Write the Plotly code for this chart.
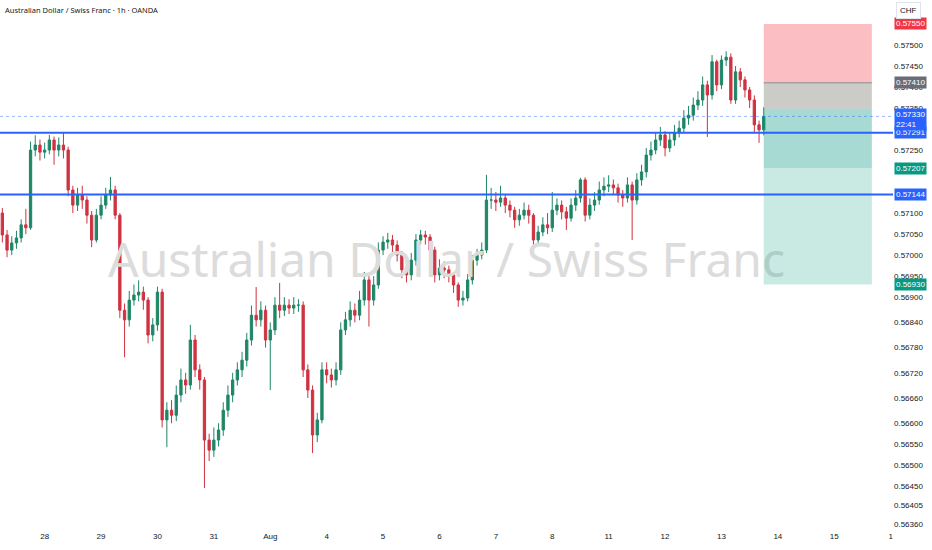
import plotly.graph_objects as go

# AUDCHF, 2h bars (oldest first)
first_open = 0.57100
closes = [
    0.57048, 0.57012, 0.57029, 0.57041, 0.57072, 0.57065, 0.57250, 0.57262, 0.57245, 0.57250,
    0.57274, 0.57250, 0.57262, 0.57250, 0.57155, 0.57119, 0.57143, 0.57131, 0.57095, 0.57036,
    0.57095, 0.57119, 0.57143, 0.57155, 0.57095, 0.56869, 0.56846, 0.56893, 0.56905, 0.56912,
    0.56893, 0.56810, 0.56834, 0.56912, 0.56608, 0.56631, 0.56619, 0.56667, 0.56703, 0.56691,
    0.56798, 0.56727, 0.56703, 0.56560, 0.56536, 0.56560, 0.56584, 0.56631, 0.56667, 0.56703,
    0.56727, 0.56750, 0.56798, 0.56857, 0.56846, 0.56869, 0.56798, 0.56822, 0.56881, 0.56869,
    0.56881, 0.56874, 0.56881, 0.56881, 0.56727, 0.56679, 0.56572, 0.56608, 0.56727, 0.56715,
    0.56703, 0.56727, 0.56822, 0.56846, 0.56869, 0.56857, 0.56893, 0.56941, 0.56893, 0.56929,
    0.57012, 0.57031, 0.57036, 0.57024, 0.57000, 0.56965, 0.56953, 0.56988, 0.57036, 0.57048,
    0.57043, 0.57012, 0.56953, 0.56969, 0.56965, 0.56953, 0.56929, 0.56893, 0.56898, 0.56941,
    0.56988, 0.57000, 0.57012, 0.57131, 0.57131, 0.57126, 0.57136, 0.57119, 0.57107, 0.57084,
    0.57095, 0.57107, 0.57095, 0.57036, 0.57055, 0.57072, 0.57065, 0.57107, 0.57119, 0.57103,
    0.57088, 0.57119, 0.57136, 0.57179, 0.57095, 0.57119, 0.57131, 0.57155, 0.57164, 0.57167,
    0.57160, 0.57143, 0.57136, 0.57167, 0.57131, 0.57179, 0.57198, 0.57238, 0.57250, 0.57274,
    0.57286, 0.57255, 0.57274, 0.57291, 0.57302, 0.57326, 0.57333, 0.57357, 0.57369, 0.57405,
    0.57381, 0.57460, 0.57405, 0.57464, 0.57471, 0.57369, 0.57436, 0.57417, 0.57393, 0.57369,
    0.57310, 0.57298, 0.57330,
]
highs = [
    0.57112, 0.57060, 0.57045, 0.57058, 0.57085, 0.57110, 0.57270, 0.57285, 0.57275, 0.57268,
    0.57286, 0.57282, 0.57280, 0.57293, 0.57258, 0.57165, 0.57160, 0.57165, 0.57140, 0.57105,
    0.57110, 0.57140, 0.57160, 0.57186, 0.57165, 0.57100, 0.56885, 0.56915, 0.56930, 0.56940,
    0.56925, 0.56900, 0.56850, 0.56925, 0.56920, 0.56650, 0.56655, 0.56690, 0.56730, 0.56720,
    0.56834, 0.56810, 0.56740, 0.56710, 0.56575, 0.56590, 0.56600, 0.56650, 0.56690, 0.56720,
    0.56745, 0.56770, 0.56815, 0.56880, 0.56924, 0.56890, 0.56880, 0.56840, 0.56900, 0.56934,
    0.56900, 0.56895, 0.56900, 0.56895, 0.56890, 0.56740, 0.56690, 0.56625, 0.56745, 0.56745,
    0.56730, 0.56745, 0.56840, 0.56865, 0.56890, 0.56885, 0.56915, 0.56960, 0.56950, 0.56950,
    0.57030, 0.57045, 0.57053, 0.57048, 0.57035, 0.57010, 0.56980, 0.57005, 0.57050, 0.57060,
    0.57058, 0.57050, 0.57020, 0.56990, 0.56985, 0.56975, 0.56960, 0.56935, 0.56915, 0.56955,
    0.57000, 0.57015, 0.57030, 0.57191, 0.57160, 0.57150, 0.57165, 0.57145, 0.57130, 0.57115,
    0.57110, 0.57125, 0.57120, 0.57100, 0.57070, 0.57090, 0.57100, 0.57150, 0.57135, 0.57130,
    0.57115, 0.57135, 0.57155, 0.57184, 0.57185, 0.57135, 0.57150, 0.57175, 0.57185, 0.57190,
    0.57180, 0.57170, 0.57155, 0.57185, 0.57175, 0.57195, 0.57215, 0.57255, 0.57270, 0.57290,
    0.57305, 0.57295, 0.57290, 0.57310, 0.57320, 0.57345, 0.57355, 0.57375, 0.57390, 0.57425,
    0.57415, 0.57476, 0.57465, 0.57475, 0.57485, 0.57480, 0.57450, 0.57445, 0.57425, 0.57400,
    0.57380, 0.57320, 0.57352,
]
lows = [
    0.57030, 0.56995, 0.57000, 0.57015, 0.57030, 0.57050, 0.57060, 0.57235, 0.57225, 0.57230,
    0.57240, 0.57215, 0.57235, 0.57230, 0.57140, 0.57100, 0.57105, 0.57110, 0.57075, 0.57019,
    0.57030, 0.57085, 0.57110, 0.57130, 0.57085, 0.56850, 0.56757, 0.56830, 0.56880, 0.56890,
    0.56870, 0.56790, 0.56795, 0.56820, 0.56590, 0.56543, 0.56600, 0.56605, 0.56650, 0.56670,
    0.56680, 0.56710, 0.56680, 0.56446, 0.56510, 0.56520, 0.56545, 0.56570, 0.56615, 0.56650,
    0.56690, 0.56710, 0.56735, 0.56785, 0.56830, 0.56830, 0.56780, 0.56679, 0.56810, 0.56850,
    0.56855, 0.56860, 0.56860, 0.56865, 0.56710, 0.56660, 0.56529, 0.56555, 0.56600, 0.56695,
    0.56685, 0.56690, 0.56715, 0.56810, 0.56830, 0.56840, 0.56845, 0.56880, 0.56830, 0.56880,
    0.56920, 0.57000, 0.57015, 0.57005, 0.56985, 0.56945, 0.56935, 0.56940, 0.56975, 0.57025,
    0.57025, 0.56995, 0.56935, 0.56940, 0.56945, 0.56935, 0.56910, 0.56877, 0.56880, 0.56890,
    0.56930, 0.56975, 0.56990, 0.57005, 0.57110, 0.57105, 0.57115, 0.57100, 0.57090, 0.57065,
    0.57070, 0.57085, 0.57075, 0.57012, 0.57025, 0.57045, 0.57050, 0.57055, 0.57095, 0.57085,
    0.57060, 0.57080, 0.57105, 0.57125, 0.57080, 0.57085, 0.57105, 0.57120, 0.57140, 0.57150,
    0.57145, 0.57125, 0.57115, 0.57125, 0.57036, 0.57120, 0.57165, 0.57185, 0.57225, 0.57240,
    0.57260, 0.57235, 0.57245, 0.57260, 0.57280, 0.57290, 0.57310, 0.57320, 0.57345, 0.57355,
    0.57281, 0.57370, 0.57390, 0.57395, 0.57450, 0.57360, 0.57360, 0.57400, 0.57375, 0.57350,
    0.57290, 0.57267, 0.57285,
]
opens = [first_open] + closes[:-1]

BAR_HOURS = 2
bar_x = [BAR_HOURS * i + 1 for i in range(len(closes))]

# time axis labels (one per trading day)
day_labels = ["28", "29", "30", "31", "Aug", "4", "5", "6", "7", "8", "11", "12", "13", "14", "15", "1"]
FIRST_DAY_HOUR = 19
day_ticks = [FIRST_DAY_HOUR + 24 * k for k in range(len(day_labels))]

# price axis
price_ticks = [0.5750, 0.5745, 0.5740, 0.5735, 0.5725, 0.5710, 0.5705, 0.5700, 0.5695, 0.5690,
               0.5684, 0.5678, 0.5672, 0.5666, 0.5660, 0.5655, 0.5650, 0.5645, 0.56405, 0.5636]
X_RANGE = [0, 380]
Y_RANGE = [0.56346, 0.57607]

# horizontal levels and the position tool
levels = [0.57291, 0.57144]
last_price = 0.57330
countdown = "22:41"
stop_price = 0.57550
stop2_price = 0.57410
entry_price = 0.57348
target1 = 0.57207
target2 = 0.56930
POS_BARS = 46

UP = "#1e8667"
DOWN = "#cf3240"
BLUE = "#2962ff"
TEAL = "#089981"
FONT = "Noto Sans"
AXFONT = "Liberation Sans"

fig = go.Figure()

# watermark first so the candles sit on top of it
fig.add_trace(go.Scatter(
    x=[sum(X_RANGE) / 2], y=[sum(Y_RANGE) / 2],
    mode="text", text=["Australian Dollar / Swiss Franc"],
    textfont=dict(family=FONT, size=48, color="#dcdcdc"),
    hoverinfo="skip", showlegend=False,
))

fig.add_trace(go.Candlestick(
    x=bar_x, open=opens, high=highs, low=lows, close=closes,
    increasing=dict(line=dict(color=UP, width=1), fillcolor=UP),
    decreasing=dict(line=dict(color=DOWN, width=1), fillcolor=DOWN),
    whiskerwidth=0, showlegend=False,
))

# position box
x_pos0 = bar_x[-1]
x_pos1 = x_pos0 + POS_BARS
zones = [
    (stop2_price, stop_price, "rgba(242,54,69,0.32)"),
    (entry_price, stop2_price, "rgba(160,160,155,0.55)"),
    (target1, entry_price, "rgba(8,153,129,0.36)"),
    (target2, target1, "rgba(8,153,129,0.22)"),
]
for lo, hi, col in zones:
    fig.add_shape(type="rect", x0=x_pos0, x1=x_pos1, y0=lo, y1=hi,
                  fillcolor=col, line=dict(width=0), layer="above")
fig.add_shape(type="line", x0=x_pos0, x1=x_pos1, y0=stop2_price, y1=stop2_price,
              line=dict(color="#8a8a8a", width=1))

fig.add_shape(type="line", xref="paper", x0=0, x1=1, y0=last_price, y1=last_price,
              line=dict(color="rgba(41,98,255,0.45)", width=1, dash="dot"))
for lv in levels:
    fig.add_shape(type="line", xref="paper", x0=0, x1=1, y0=lv, y1=lv,
                  line=dict(color=BLUE, width=2))

# price-scale labels
def price_label(y, text, bg, fg="white"):
    fig.add_annotation(xref="paper", x=1, xanchor="left", xshift=1, y=y, yanchor="middle",
                       text=text, showarrow=False, bgcolor=bg, borderpad=1,
                       font=dict(family=AXFONT, size=8, color=fg))

price_label(stop_price, f"{stop_price:.5f}", "#f23645")
price_label(stop2_price, f"{stop2_price:.5f}", "#6a6d78")
price_label(levels[0], f"{levels[0]:.5f}", BLUE)
fig.add_annotation(xref="paper", x=1, xanchor="left", xshift=1, y=last_price, yanchor="top",
                   yshift=8, text=f"{last_price:.5f}<br>{countdown}", showarrow=False,
                   bgcolor=BLUE, borderpad=1, align="left",
                   font=dict(family=AXFONT, size=8, color="white"))
price_label(target1, f"{target1:.5f}", TEAL)
price_label(levels[1], f"{levels[1]:.5f}", BLUE)
price_label(target2, f"{target2:.5f}", TEAL)

fig.add_annotation(xref="paper", yref="paper", x=0, xshift=3, y=1, yshift=-3, xanchor="left", yanchor="top",
                   text="Australian Dollar / Swiss Franc · 1h · OANDA", showarrow=False,
                   font=dict(family=FONT, size=7.5, color="#131722"))
fig.add_annotation(xref="paper", yref="paper", x=1, xshift=3, y=1, yshift=-2, xanchor="left", yanchor="top",
                   text="CHF", showarrow=False, bgcolor="white", bordercolor="#e0e3eb",
                   borderwidth=1, borderpad=3, font=dict(family=AXFONT, size=8, color="#131722"))

fig.update_layout(
    width=932, height=550,
    margin=dict(l=0, r=39, t=0, b=20),
    paper_bgcolor="white", plot_bgcolor="white",
    xaxis=dict(range=X_RANGE, tickvals=day_ticks, ticktext=day_labels, showgrid=False,
               zeroline=False, rangeslider=dict(visible=False), ticks="", automargin=False,
               tickfont=dict(family=AXFONT, size=8, color="#131722")),
    yaxis=dict(range=Y_RANGE, side="right", tickvals=price_ticks, tickformat=".5f",
               showgrid=False, zeroline=False, ticks="", automargin=False,
               tickfont=dict(family=AXFONT, size=8, color="#131722")),
    showlegend=False,
)

# drop the default page margin so the chart starts at the window corner
fig.write_html("out.html", config={"displayModeBar": False},
               post_script="document.body.style.margin='0';")
